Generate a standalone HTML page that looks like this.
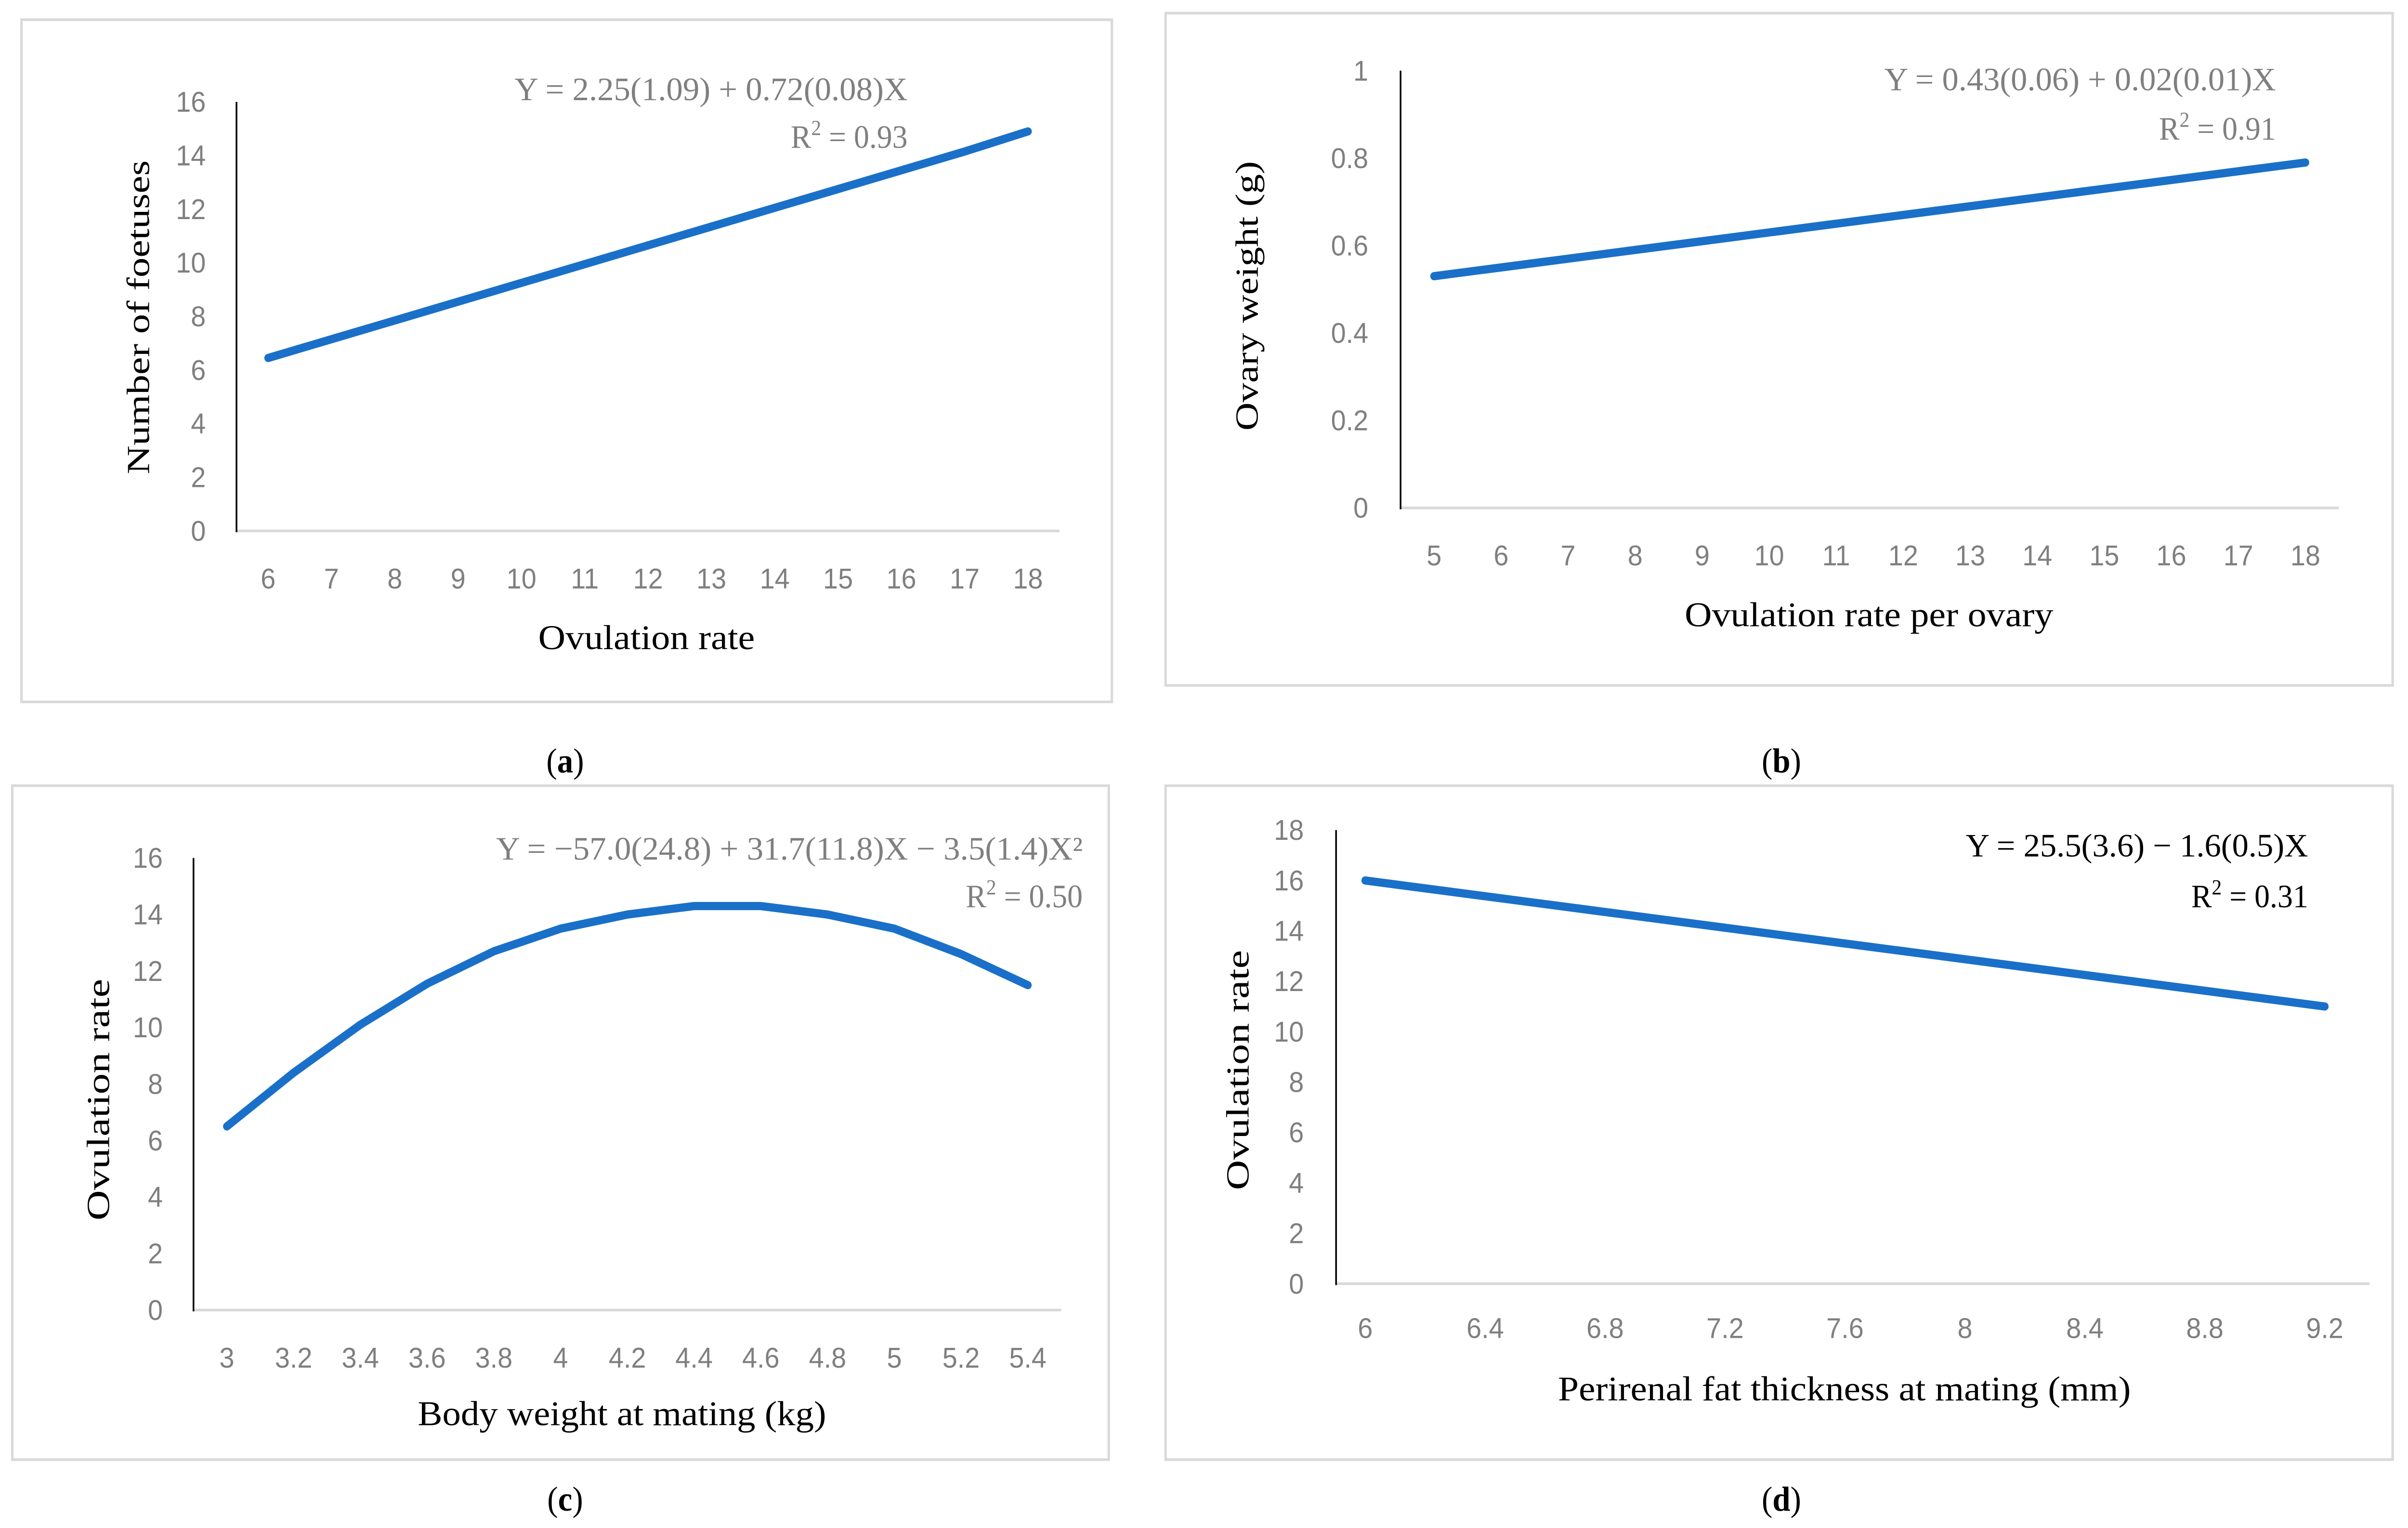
<!DOCTYPE html>
<html><head><meta charset="utf-8">
<style>
html,body{margin:0;padding:0;background:#fff;width:100%;height:100%;overflow:hidden;}
svg{display:block;width:100vw;height:100vh;}
</style></head><body>
<svg id="fig" xmlns="http://www.w3.org/2000/svg" viewBox="0 0 1568 929.6" preserveAspectRatio="none"><g id="root"></g></svg>
<script>
const aCats=[6,7,8,9,10,11,12,13,14,15,16,17,18];
const aVals=[6.45,7.15,7.85,8.55,9.25,9.95,10.65,11.35,12.05,12.75,13.45,14.15,14.9];
const aYTicks=[0,2,4,6,8,10,12,14,16];
const bCats=[5,6,7,8,9,10,11,12,13,14,15,16,17,18];
const bVals=[0.53,0.55,0.57,0.59,0.61,0.63,0.65,0.67,0.69,0.71,0.73,0.75,0.77,0.79];
const bYTicks=[0,0.2,0.4,0.6,0.8,1];
const cCats=["3","3.2","3.4","3.6","3.8","4","4.2","4.4","4.6","4.8","5","5.2","5.4"];
const cVals=[6.5,8.4,10.1,11.55,12.7,13.5,14.0,14.3,14.3,14.0,13.5,12.6,11.5];
const cYTicks=[0,2,4,6,8,10,12,14,16];
const dXTicks=["6","6.4","6.8","7.2","7.6","8","8.4","8.8","9.2"];
const dXs=[6,9.2];
const dVals=[16.0,11.0];
const dYTicks=[0,2,4,6,8,10,12,14,16,18];

const NS="http://www.w3.org/2000/svg";
const svg=document.getElementById('root');
function mk(tag,attrs,parent,text){const e=document.createElementNS(NS,tag);for(const k in attrs)e.setAttribute(k,attrs[k]);if(text!==undefined)e.textContent=text;(parent||svg).appendChild(e);return e;}
const SANS='"Liberation Sans", sans-serif', SERIF='"Liberation Serif", serif';

function panel(p){
  const g=mk('g',{});
  
  
  const box=mk('rect',{x:p.box[0],y:p.box[1],width:p.box[2]-p.box[0],height:p.box[3]-p.box[1],fill:'#fff',stroke:'#d9d9d9','stroke-width':1.6},g);
  
  
  const yS=v=>p.y0-(v-p.ymin)/(p.ymax-p.ymin)*(p.y0-p.y1);
  const xa=mk('line',{x1:p.ax,y1:p.y0,x2:p.axEnd,y2:p.y0,stroke:'#d9d9d9','stroke-width':1.6},g);
  
  
  const ya=mk('line',{x1:p.ax,y1:p.y1,x2:p.ax,y2:p.y0+0.8,stroke:'#000','stroke-width':1.1},g);
  
  
  p.yTicks.forEach(v=>{
    const t=mk('text',{x:p.yLabR,y:yS(v)+6,'text-anchor':'end','font-family':SANS,'font-size':17.5,fill:'#7f7f7f'},g,String(v));
    
    
  });
  p.xLabels.forEach((lab,i)=>{
    const t=mk('text',{x:p.xLabPos(i),y:p.xLabY+6,'text-anchor':'middle','font-family':SANS,'font-size':17.5,fill:'#7f7f7f'},g,lab);
    
    
  });
  const pts=p.vals.map((v,i)=>p.xPos(i).toFixed(2)+','+yS(v).toFixed(2)).join(' ');
  const ln=mk('polyline',{points:pts,fill:'none',stroke:'#1a70c8','stroke-width':5,'stroke-linejoin':'round','stroke-linecap':'round'},g);
  
  
  const xt=mk('text',{x:p.xt[0],y:p.xt[1]+7,'text-anchor':'middle','font-family':SERIF,'font-size':21,fill:'#000',textLength:p.xt[2],lengthAdjust:'spacingAndGlyphs'},g,p.xTitle);
  
  
  const yt=mk('text',{x:0,y:0,'text-anchor':'middle','font-family':SERIF,'font-size':21,fill:'#000',textLength:p.yt[2],lengthAdjust:'spacingAndGlyphs',transform:`translate(${p.yt[0]+7},${p.yt[1]}) rotate(-90)`},g,p.yTitle);
  
  
  const eq=mk('text',{x:p.eq[0],y:p.eq[1]+7,'text-anchor':'end','font-family':SERIF,'font-size':20,fill:p.eqCol,textLength:p.eq[2],lengthAdjust:'spacingAndGlyphs'},g,p.eqText);
  
  
  const r2=mk('text',{x:p.eq[0],y:p.r2y+7,'text-anchor':'end','font-family':SERIF,'font-size':20,fill:p.eqCol},g);
  
  
  mk('tspan',{},r2,'R');
  mk('tspan',{'font-size':13,dy:-8},r2,'2');
  mk('tspan',{dy:8},r2,' = '+p.r2);
  const cap=mk('text',{x:p.cap[0],y:p.cap[1]+7,'text-anchor':'middle','font-family':SERIF,'font-size':21,fill:'#000'},g);
  
  
  mk('tspan',{},cap,'(');
  mk('tspan',{'font-weight':'bold'},cap,p.id);
  mk('tspan',{},cap,')');
}

const aStep=(690-154)/aCats.length;
panel({id:'a',box:[14,12,724,427],ax:154,axEnd:690,y0:323,y1:62,ymin:0,ymax:16,yTicks:aYTicks,yLabR:134,
  xLabels:aCats.map(String),xLabPos:i=>154+aStep*(i+0.5),xLabY:352,vals:aVals,xPos:i=>154+aStep*(i+0.5),
  xTitle:'Ovulation rate',xt:[421,388,141],yTitle:'Number of foetuses',yt:[90,193,191],
  eqText:'Y = 2.25(1.09) + 0.72(0.08)X',eq:[591,54,256],r2y:83,r2:'0.93',eqCol:'#7f7f7f',cap:[368,463]});
const bStep=(1523-912)/bCats.length;
panel({id:'b',box:[759,8,1558,417],ax:912,axEnd:1523,y0:309,y1:43,ymin:0,ymax:1,yTicks:bYTicks,yLabR:891,
  xLabels:bCats.map(String),xLabPos:i=>912+bStep*(i+0.5),xLabY:338,vals:bVals,xPos:i=>912+bStep*(i+0.5),
  xTitle:'Ovulation rate per ovary',xt:[1217,374,240],yTitle:'Ovary weight (g)',yt:[812,180,164],
  eqText:'Y = 0.43(0.06) + 0.02(0.01)X',eq:[1482,48,255],r2y:78,r2:'0.91',eqCol:'#7f7f7f',cap:[1160,463]});
const cStep=(691-126)/cCats.length;
panel({id:'c',box:[8,478,722,888],ax:126,axEnd:691,y0:797,y1:522,ymin:0,ymax:16,yTicks:cYTicks,yLabR:106,
  xLabels:cCats,xLabPos:i=>126+cStep*(i+0.5),xLabY:826,vals:cVals,xPos:i=>126+cStep*(i+0.5),
  xTitle:'Body weight at mating (kg)',xt:[405,860,266],yTitle:'Ovulation rate',yt:[64,669,147],
  eqText:'Y = \u221257.0(24.8) + 31.7(11.8)X \u2212 3.5(1.4)X\u00b2',eq:[705,516,382],r2y:545,r2:'0.50',eqCol:'#7f7f7f',cap:[368,912]});
const dX=v=>889+(v-6)/0.4*78.1;
panel({id:'d',box:[759,478,1558,888],ax:870,axEnd:1543,y0:781,y1:505,ymin:0,ymax:18,yTicks:dYTicks,yLabR:849,
  xLabels:dXTicks,xLabPos:i=>dX(parseFloat(dXTicks[i])),xLabY:808,vals:dVals,xPos:i=>dX(dXs[i]),
  xTitle:'Perirenal fat thickness at mating (mm)',xt:[1201,845,373],yTitle:'Ovulation rate',yt:[806,651,146],
  eqText:'Y = 25.5(3.6) \u2212 1.6(0.5)X',eq:[1503,514,223],r2y:545,r2:'0.31',eqCol:'#000',cap:[1160,912]});
</script>
</body></html>
